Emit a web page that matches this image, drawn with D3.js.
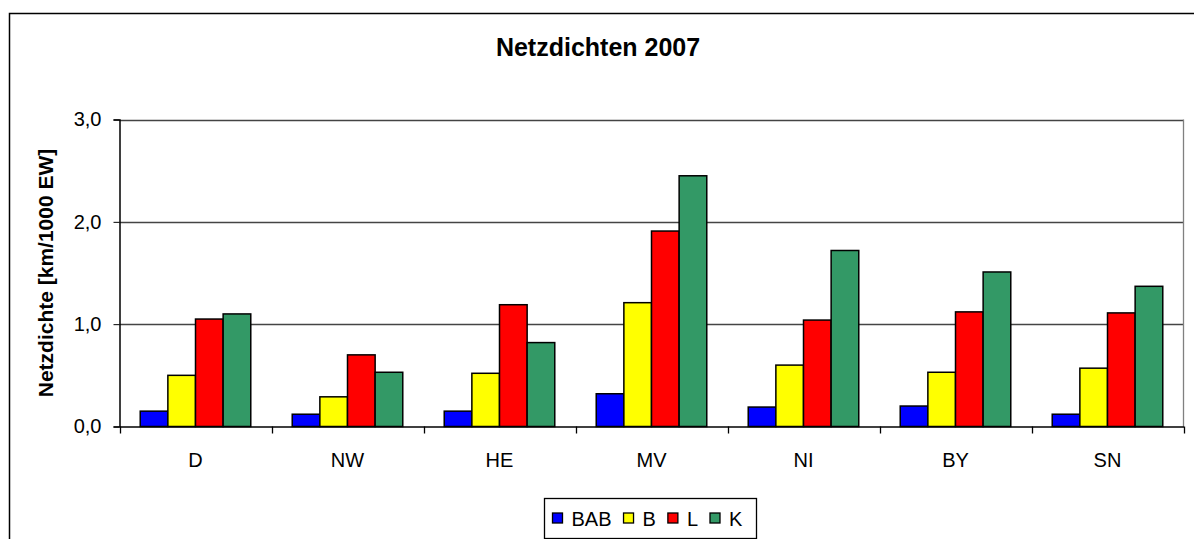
<!DOCTYPE html>
<html lang="de">
<head>
<meta charset="UTF-8">
<title>Netzdichten 2007</title>
<script src="https://cdn.jsdelivr.net/npm/d3@7"></script>
<style>
  body { margin: 0; background: #fff; }
  text { font-family: "Liberation Sans", Arial, sans-serif; fill: #000; }
</style>
</head>
<body>
<script>
  const regions = ["D", "NW", "HE", "MV", "NI", "BY", "SN"];
  const seriesNames = ["BAB", "B", "L", "K"];
  const seriesColors = ["#0000ff", "#ffff00", "#ff0000", "#339966"];
  const BAB = [0.15, 0.12, 0.15, 0.32, 0.19, 0.20, 0.12];
  const B   = [0.50, 0.29, 0.52, 1.21, 0.60, 0.53, 0.57];
  const L   = [1.05, 0.70, 1.19, 1.91, 1.04, 1.12, 1.11];
  const K   = [1.10, 0.53, 0.82, 2.45, 1.72, 1.51, 1.37];
  const yTicks = [0, 1, 2, 3];

  const series = [BAB, B, L, K];

  const w = 1194, h = 539;
  const plot = { left: 119.5, right: 1183.5, top: 119.5, bottom: 426.5 };

  const svg = d3.select("body").append("svg")
    .attr("width", w).attr("height", h);

  // outer chart border (right and bottom edges fall outside the picture)
  svg.append("rect")
    .attr("x", 9.5).attr("y", 13.5)
    .attr("width", 1200).attr("height", 600)
    .attr("fill", "none").attr("stroke", "#000").attr("stroke-width", 1.5);

  const x0 = d3.scaleBand()
    .domain(regions)
    .range([plot.left, plot.right])
    .paddingInner(0).paddingOuter(0);

  // gap width 150% in Excel terms: bars take 4 of 5.5 units
  const x1 = d3.scaleBand()
    .domain(seriesNames)
    .range([x0.bandwidth() * 0.75 / 5.5, x0.bandwidth() - x0.bandwidth() * 0.75 / 5.5]);

  const y = d3.scaleLinear()
    .domain([0, 3])
    .range([plot.bottom, plot.top]);

  // gridlines
  svg.append("g")
    .selectAll("line")
    .data(yTicks.filter(d => d > 0))
    .enter()
    .append("line")
    .attr("x1", plot.left).attr("x2", plot.right)
    .attr("y1", d => Math.round(y(d)) + 0.5)
    .attr("y2", d => Math.round(y(d)) + 0.5)
    .attr("stroke", "#444").attr("stroke-width", 1.3);

  // right plot border
  svg.append("line")
    .attr("x1", plot.right).attr("x2", plot.right)
    .attr("y1", plot.top).attr("y2", plot.bottom)
    .attr("stroke", "#808080").attr("stroke-width", 1.3);

  // bars
  const groups = svg.append("g")
    .selectAll("g")
    .data(regions)
    .enter()
    .append("g")
    .attr("transform", d => `translate(${x0(d)},0)`);

  groups.selectAll("rect")
    .data((d, i) => seriesNames.map((s, j) => ({ s, v: series[j][i], c: seriesColors[j] })))
    .enter()
    .append("rect")
    .attr("x", d => x1(d.s))
    .attr("y", d => y(d.v))
    .attr("width", x1.bandwidth())
    .attr("height", d => y(0) - y(d.v))
    .attr("fill", d => d.c)
    .attr("stroke", "#000")
    .attr("stroke-width", 1.5);

  // y axis
  const yAxis = d3.axisLeft(y)
    .tickValues(yTicks)
    .tickSize(6)
    .tickPadding(12)
    .tickFormat(d => d3.format(".1f")(d).replace(".", ","));

  const gy = svg.append("g")
    .attr("transform", `translate(${plot.left},0)`)
    .call(yAxis);
  gy.selectAll("text").style("font-size", "20px").attr("fill", "#000");
  gy.select(".domain").attr("stroke-width", 1.5);

  // x axis: ticks between categories
  const xAxis = d3.axisBottom(x0).tickSize(0).tickPadding(26);
  const gx = svg.append("g")
    .attr("transform", `translate(0,${plot.bottom})`)
    .call(xAxis);
  gx.selectAll("text").style("font-size", "20px").attr("fill", "#000");
  gx.select(".domain").attr("stroke-width", 1.5);

  const bounds = regions.map(r => x0(r)).concat([x0.range()[1]]);
  gx.selectAll(".sep")
    .data(bounds)
    .enter()
    .append("line")
    .attr("class", "sep")
    .attr("x1", d => Math.round(d) + 0.5).attr("x2", d => Math.round(d) + 0.5)
    .attr("y1", 0).attr("y2", 7)
    .attr("stroke", "#000").attr("stroke-width", 1.3);

  // title
  svg.append("text")
    .attr("x", 598).attr("y", 56)
    .attr("text-anchor", "middle")
    .style("font-size", "25px").style("font-weight", "bold")
    .text("Netzdichten 2007");

  // y axis title
  svg.append("text")
    .attr("transform", `translate(53, ${(plot.top + plot.bottom) / 2}) rotate(-90)`)
    .attr("text-anchor", "middle")
    .style("font-size", "21px").style("font-weight", "bold")
    .text("Netzdichte [km/1000 EW]");

  // legend
  const legend = svg.append("g").attr("transform", "translate(544.5,498.5)");
  legend.append("rect")
    .attr("width", 212).attr("height", 40)
    .attr("fill", "#fff").attr("stroke", "#000").attr("stroke-width", 1.3);

  let lx = 8;
  seriesNames.forEach((name, i) => {
    legend.append("rect")
      .attr("x", lx).attr("y", 14.5)
      .attr("width", 10).attr("height", 10)
      .attr("fill", seriesColors[i]).attr("stroke", "#000").attr("stroke-width", 1.3);
    const t = legend.append("text")
      .attr("x", lx + 19).attr("y", 27)
      .style("font-size", "20px")
      .text(name);
    lx += 19 + t.node().getComputedTextLength() + 12;
  });
</script>
</body>
</html>
